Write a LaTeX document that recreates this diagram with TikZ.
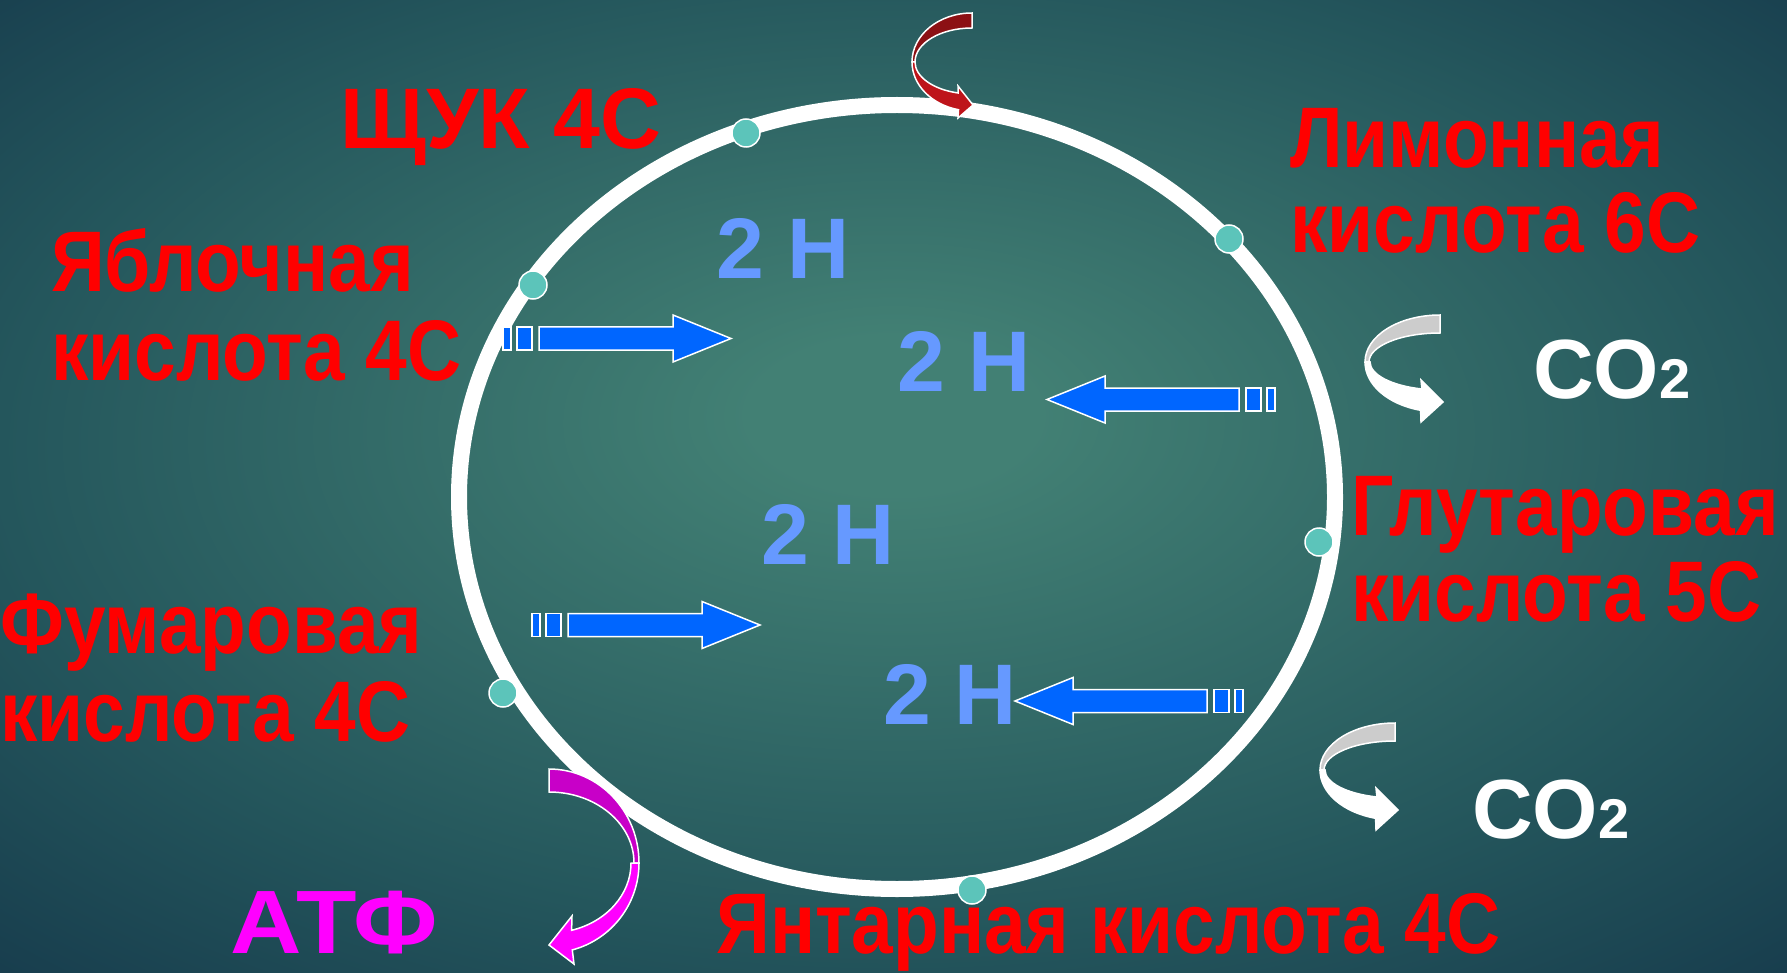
\documentclass[tikz,border=0pt]{standalone}
\usepackage{fontspec}
\setmainfont{Liberation Sans}
\definecolor{bgin}{RGB}{66,128,116}
\definecolor{bgedge}{RGB}{36,86,92}
\definecolor{bgcorner}{RGB}{24,62,78}
\definecolor{dotc}{RGB}{92,196,186}
\definecolor{arrblue}{RGB}{0,102,255}
\definecolor{hblue}{RGB}{102,153,255}
\definecolor{reddark}{RGB}{140,16,20}
\definecolor{redbright}{RGB}{190,20,26}
\definecolor{magdark}{RGB}{200,0,200}
\definecolor{magbright}{RGB}{255,0,255}
\definecolor{greyarr}{RGB}{204,204,204}
\pgfdeclareradialshading{bgshade}{\pgfpoint{0bp}{4bp}}{color(0bp)=(bgin); color(4bp)=(bgin); color(25bp)=(bgedge); color(36bp)=(bgcorner); color(50bp)=(bgcorner)}
\newcommand{\nrw}[1]{\scalebox{0.87}[1]{#1}}
\tikzset{
  lbl/.style={font={\fontsize{86}{86}\selectfont\bfseries}, anchor=base west, inner sep=0pt, text=red},
  hlbl/.style={lbl, text=hblue},
  colbl/.style={font={\fontsize{84}{84}\selectfont\bfseries}, anchor=base west, inner sep=0pt, text=white},
  outl/.style={draw=white, line width=1.5pt},
  dot/.style={fill=dotc, draw=white, line width=1.5pt},
  barrow/.pic={
    \filldraw[fill=arrblue, outl] (-228,-11.5) rectangle (-220,11.5);
    \filldraw[fill=arrblue, outl] (-214,-11.5) rectangle (-199,11.5);
    \filldraw[fill=arrblue, outl] (-192,-11.5) -- (-58,-11.5) -- (-58,-23.5) -- (0,0)
       -- (-58,23.5) -- (-58,11.5) -- (-192,11.5) -- cycle;
  },
  co2arrow/.pic={
    \filldraw[fill=greyarr, outl] (1440,315) arc[start angle=270, end angle=180, x radius=75, y radius=47]
      -- (1369,362) arc[start angle=180, end angle=270, x radius=71, y radius=29] -- cycle;
    \filldraw[fill=white, outl] (1365,362) arc[start angle=180, end angle=105, x radius=75, y radius=50]
      -- (1421,422) -- (1443,402) -- (1421,380) -- (1421.9,389)
      arc[start angle=105, end angle=180, x radius=70, y radius=28] -- cycle;
  }
}
\begin{document}
\begin{tikzpicture}[x=1pt,y=-1pt]
\useasboundingbox (0,0) rectangle (1787,973);
\shade[shading=bgshade] (0,0) rectangle (1787,973);

% main cycle
\draw[white, line width=16pt] (897,497) ellipse [x radius=438, y radius=392];

% dots
\filldraw[dot] (746,133) circle[radius=14];
\filldraw[dot] (1229,239) circle[radius=14];
\filldraw[dot] (533,285) circle[radius=14];
\filldraw[dot] (1319,542) circle[radius=14];
\filldraw[dot] (503,693) circle[radius=14];
\filldraw[dot] (972,890) circle[radius=14];

% red curved arrow (top)
\filldraw[fill=reddark, outl] (972,13) arc[start angle=270, end angle=180, x radius=60, y radius=49]
  -- (915,62) arc[start angle=180, end angle=270, x radius=57, y radius=34] -- cycle;
\filldraw[fill=redbright, outl] (912,62) arc[start angle=180, end angle=103, x radius=60, y radius=49]
  -- (958,118) -- (973,105) -- (958,86) -- (958.2,93)
  arc[start angle=104, end angle=180, x radius=57, y radius=32] -- cycle;

% CO2 curved arrows
\pic {co2arrow};
\begin{scope}[shift={(-45,408)}]
\pic {co2arrow};
\end{scope}

% magenta curved arrow (ATP)
\filldraw[fill=magdark, outl] (549,769) arc[start angle=-90, end angle=0, x radius=90, y radius=94]
  -- (634,863) arc[start angle=0, end angle=-90, x radius=85, y radius=71] -- cycle;
\filldraw[fill=magbright, outl] (639,863) arc[start angle=0, end angle=75, x radius=90, y radius=90]
  -- (574,964) -- (549,945) -- (572,916) -- (571.6,930.3)
  arc[start angle=74, end angle=0, x radius=82, y radius=70] -- cycle;

% blue arrows
\pic at (731,338.5) {barrow};
\pic at (760,625) {barrow};
\pic[xscale=-1] at (1047,399.5) {barrow};
\pic[xscale=-1] at (1015,701) {barrow};

% labels
\node[lbl] (shchuk) at (340,149) {\scalebox{0.98}[1]{ЩУК 4С}};
\node[lbl] (lim1) at (1290,168) {\nrw{Лимонная}};
\node[lbl] (lim2) at (1290,253) {\nrw{кислота 6С}};
\node[lbl] (yab1) at (51,292) {\nrw{Яблочная}};
\node[lbl] (yab2) at (51,380) {\nrw{кислота 4С}};
\node[lbl] (glu1) at (1351,535) {\nrw{Глутаровая}};
\node[lbl] (glu2) at (1351,621) {\nrw{кислота 5С}};
\node[lbl] (fum1) at (0,653) {\nrw{Фумаровая}};
\node[lbl] (fum2) at (0,741) {\nrw{кислота 4С}};
\node[lbl] (yant) at (716,953) {\nrw{Янтарная кислота 4С}};
\node[lbl, text=magbright, font={\fontsize{90}{90}\selectfont\bfseries}] (atf) at (230,953) {\scalebox{1.1}[1]{АТФ}};

\node[hlbl] (h1) at (716,279) {2 Н};
\node[hlbl] (h2) at (897,391) {2 Н};
\node[hlbl] (h3) at (761,564) {2 Н};
\node[hlbl] (h4) at (883,724) {2 Н};

\node[colbl] (co2a) at (1533,398) {CO{\fontsize{56}{56}\selectfont 2}};
\node[colbl] (co2b) at (1472,838) {CO{\fontsize{56}{56}\selectfont 2}};
\end{tikzpicture}
\end{document}
